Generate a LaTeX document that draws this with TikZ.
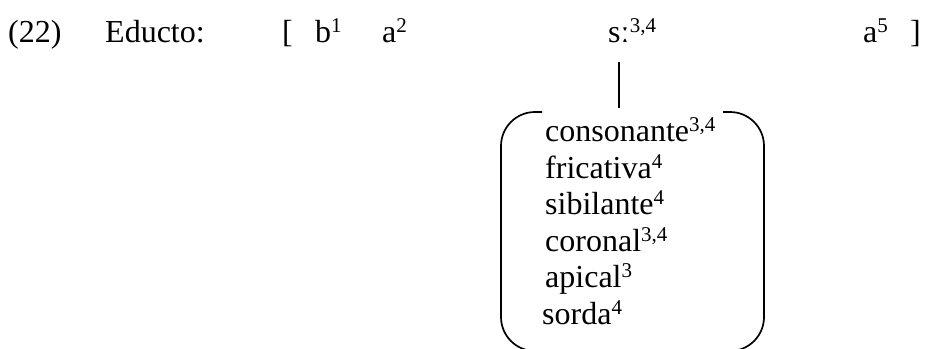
\documentclass[tikz,border=0pt]{standalone}
\usepackage{fontspec}
\setmainfont{Liberation Serif}
\usetikzlibrary{positioning}
\newcommand{\supr}[1]{\raisebox{10pt}{\fontsize{21}{21}\selectfont #1}}
\tikzset{
    word/.style={anchor=base west, inner sep=0pt, font=\fontsize{32}{38}\selectfont},
    feat/.style={word},
    link/.style={line width=1.4pt},
    avm/.style={line width=1.7pt, rounded corners=34pt}
}

\begin{document}
\begin{tikzpicture}[x=1pt, y=-1pt]
                \useasboundingbox (0,0) rectangle (928,348);
                \node[word] (num) at (8,42) {(22)};
                \node[word] (lbl) at (105,42) {Educto:};
                \node[word] (lbr) at (282,42) {[};
                \node[word] (b1) at (315,42) {b\supr{1}};
                \node[word] (a2) at (382,42) {a\supr{2}};
                \node[word] (s34) at (608,42) {sː};
                \node[word] (s34sup) at (s34.base east) {\supr{3,4}};
                \node[word] (a5) at (863,42) {a\supr{5}};
                \node[word] (rbr) at (910,42) {]};
                % feature matrix
                \node[feat] (f1) at (545,141) {consonante\supr{3,4}};
                \node[feat] (f2) at (545,178) {fricativa\supr{4}};
                \node[feat] (f3) at (545,214) {sibilante\supr{4}};
                \node[feat] (f4) at (545,251) {coronal\supr{3,4}};
                \node[feat] (f5) at (545,287) {apical\supr{3}};
                \node[feat] (f6) at (542,324) {sorda\supr{4}};
                \draw[avm] (542,112) -- (501,112) -- (501,351) -- (545,351);
                \draw[avm] (723,112) -- (764,112) -- (764,351) -- (720,351);
                \coordinate (avmtop) at ([yshift=-66pt]s34.base);
                \draw[link] ([yshift=-20pt]s34.base) -- (avmtop);
\end{tikzpicture}
\end{document}
